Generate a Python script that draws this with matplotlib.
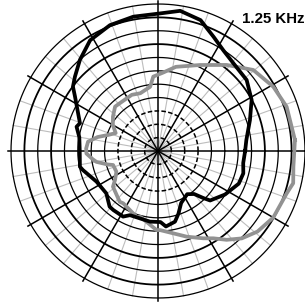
import numpy as np
import matplotlib
matplotlib.use("Agg")
import matplotlib.pyplot as plt

# ---- data (dB, 0 dB = outer ring, centre = -55 dB) ----
title = "1.25 KHz"
ring_levels = [-50, -45, -40, -35, -30, -25, -20, -15, -10, -5, 0]

black_angles = [0, 7, 18.6, 28.6, 38.7, 49.4, 57, 64, 72, 81, 89, 100.4, 110.9,
                121.5, 130.6, 138.2, 142.9, 146.8, 160.4, 163.4, 170, 179, 191.4,
                194.2, 206.5, 219.3, 229, 233, 242, 246.4, 263.5, 272, 276, 283.5,
                288, 294, 304, 310, 314, 316.5, 327, 338, 345.3, 352]
black_db = [-22.4, -21.7, -18.7, -15.1, -12.5, -11.7, -10.1, -7.5, -3.5, -1.9, -3.5,
            -3.9, -4.6, -6.4, -10.1, -13.3, -15.1, -17.9, -24.0, -23.2, -25.1, -25.7,
            -25.2, -26.0, -29.3, -30.0, -27.4, -27.3, -27.2, -28.8, -28.4, -28.4,
            -26.6, -27.8, -30.3, -33.7, -35.5, -34.0, -30.5, -28.1, -25.1, -22.4,
            -22.0, -22.8]

gray_angles = [4.6, 19, 29.1, 40.4, 51.4, 64, 78, 86.3, 93.6, 97, 107, 115, 128.8,
               134, 142.7, 150, 157, 162, 167, 172.4, 178, 182, 187, 190, 195, 197.3,
               206.5, 214, 218.4, 233, 236.4, 252, 255, 269, 271.5, 284.7, 288.5,
               297.4, 302.4, 307.7, 313.8, 321, 330, 341.8, 346.6, 353.4]
gray_db = [-3.6, -4.1, -5.6, -8.2, -13.8, -19.2, -22.8, -25.6, -27.1, -30.8, -32.4,
           -31.8, -32.1, -31.9, -33.8, -35.5, -37.8, -35.5, -31.8, -28.6, -28.1, -28.2,
           -30.3, -31.6, -35.5, -37.4, -37.6, -35.6, -33.5, -31.2, -31.5, -29.1, -29.5,
           -25.4, -25.4, -22.5, -21.2, -18.2, -16.3, -13.0, -9.7, -7.1, -5.2, -4.3,
           -3.0, -4.0]

R_MIN, R_MAX = -55, 1.5

fig = plt.figure(figsize=(3.05, 3.03), dpi=100)
ax = fig.add_axes([7 / 305, 1 / 303, 302 / 305, 302 / 303], projection="polar")
ax.set_ylim(R_MIN, R_MAX)
ax.grid(False)
ax.set_xticks([])
ax.set_yticks([])
ax.spines["polar"].set_visible(False)
ax.patch.set_alpha(0)

# gray spokes every 10 deg
for a in range(0, 360, 10):
    if a % 30:
        t = np.deg2rad(a)
        ax.plot([t, t], [R_MIN, 0], color="#bdbdbd", lw=0.8, zorder=1)

# rings
tt = np.linspace(0, 2 * np.pi, 721)
for i, lv in enumerate(ring_levels):
    ls = (0, (3, 1.5)) if i < 3 else "-"
    lw = 1.3 if lv in (-15, -5) else (1.1 if i < 3 else 0.9)
    ax.plot(tt, np.full_like(tt, lv), color="black", lw=lw, ls=ls, zorder=2)

# black spokes every 30 deg
for a in range(0, 360, 30):
    t = np.deg2rad(a)
    ax.plot([t, t], [R_MIN, 1.3], color="black", lw=1.1, zorder=3)

def closed(angles, vals):
    th = np.deg2rad(np.append(angles, angles[0]))
    return th, np.append(vals, vals[0])

th, r = closed(gray_angles, gray_db)
ax.plot(th, r, color="#929292", lw=2.7, zorder=4, solid_joinstyle="round")
th, r = closed(black_angles, black_db)
ax.plot(th, r, color="black", lw=2.7, zorder=5, solid_joinstyle="round")

fig.text(304 / 305, 1 - 23 / 303, title, ha="right", va="baseline",
         fontsize=10.8, fontweight="bold", family="Liberation Sans")

fig.savefig("out.png", dpi=100)
